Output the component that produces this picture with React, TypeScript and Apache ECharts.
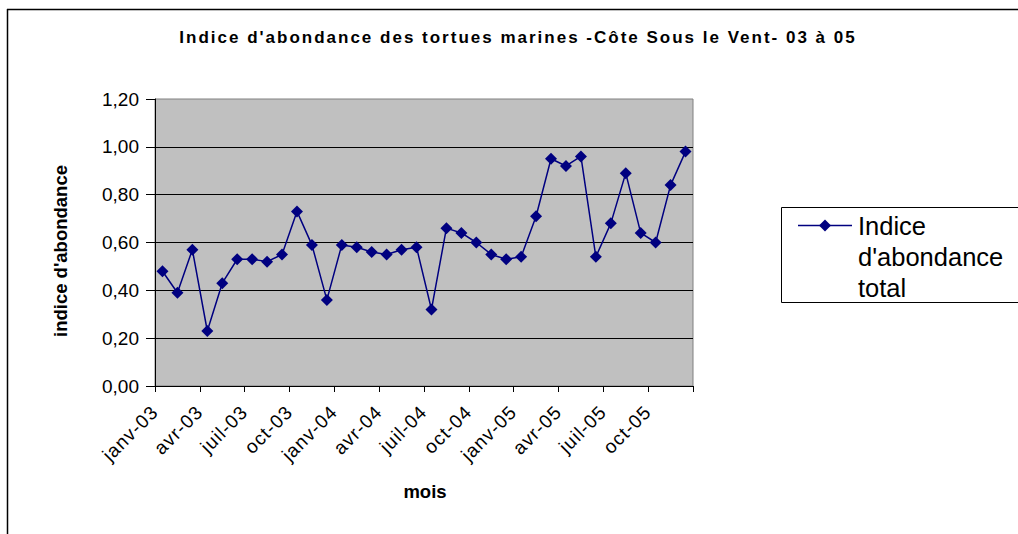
import React, { useEffect, useRef } from "react";
import * as echarts from "echarts";

const TITLE = "Indice d'abondance des tortues marines -Côte Sous le Vent- 03 à 05";
const Y_NAME = "indice d'abondance";
const X_NAME = "mois";
const SERIES_NAME = "Indice d'abondance total";
const LEGEND_LINES = ["Indice", "d'abondance", "total"];

const monthNames = ["janv", "févr", "mars", "avr", "mai", "juin", "juil", "août", "sept", "oct", "nov", "déc"];
const years = ["03", "04", "05"];
const categories: string[] = years.flatMap((y) => monthNames.map((m) => `${m}-${y}`));

const values = [
  0.48, 0.39, 0.57, 0.23, 0.43, 0.53, 0.53, 0.52, 0.55, 0.73, 0.59, 0.36,
  0.59, 0.58, 0.56, 0.55, 0.57, 0.58, 0.32, 0.66, 0.64, 0.6, 0.55, 0.53,
  0.54, 0.71, 0.95, 0.92, 0.96, 0.54, 0.68, 0.89, 0.64, 0.6, 0.84, 0.98,
];

const FONT = "'Liberation Sans', Arial, sans-serif";
const NAVY = "#000080";

export default function App() {
  const ref = useRef<HTMLDivElement>(null);

  useEffect(() => {
    const el = ref.current;
    if (!el) return;
    const chart = echarts.init(el, null, { renderer: "svg" });

    chart.setOption({
      animation: false,
      backgroundColor: "#ffffff",
      textStyle: { fontFamily: FONT },
      grid: {
        left: 155,
        top: 99,
        right: 325,
        bottom: 148,
        show: true,
        backgroundColor: "#c0c0c0",
        borderColor: "#808080",
        borderWidth: 1,
      },
      xAxis: {
        type: "category",
        data: categories,
        boundaryGap: true,
        axisLine: { lineStyle: { color: "#000", width: 1 } },
        axisTick: { show: true, interval: 2, length: 6, lineStyle: { color: "#000" } },
        axisLabel: {
          interval: 2,
          rotate: 45,
          margin: 15,
          padding: [0, 11, 0, 0],
          fontSize: 19,
          color: "#000",
          fontFamily: FONT,
        },
        splitLine: { show: false },
      },
      yAxis: {
        type: "value",
        min: 0,
        max: 1.2,
        interval: 0.2,
        axisLine: { show: true, lineStyle: { color: "#000", width: 1 } },
        axisTick: { show: true, length: 9, lineStyle: { color: "#000" } },
        axisLabel: {
          margin: 16,
          fontSize: 19,
          color: "#000",
          fontFamily: FONT,
          formatter: (v: number) => v.toFixed(2).replace(".", ","),
        },
        splitLine: { show: true, showMaxLine: false, lineStyle: { color: "#000", width: 1 } },
      },
      series: [
        {
          name: SERIES_NAME,
          type: "line",
          data: values,
          symbol: "diamond",
          symbolSize: 12,
          showAllSymbol: true,
          lineStyle: { color: NAVY, width: 1.5 },
          itemStyle: { color: NAVY },
        },
      ],
      graphic: [
        { type: "line", shape: { x1: 7, y1: 9.5, x2: 1018, y2: 9.5 }, style: { stroke: "#000", lineWidth: 1.5 } },
        { type: "line", shape: { x1: 7.5, y1: 9, x2: 7.5, y2: 534 }, style: { stroke: "#000", lineWidth: 1.5 } },
        {
          type: "text",
          x: 518,
          y: 37,
          style: {
            text: TITLE,
            fontSize: 17,
            fontWeight: "bold",
            fontFamily: FONT,
            fill: "#000",
            align: "center",
            verticalAlign: "middle",
          },
        },
        {
          type: "text",
          x: 60,
          y: 251,
          rotation: Math.PI / 2,
          style: {
            text: Y_NAME,
            fontSize: 18.5,
            fontWeight: "bold",
            fontFamily: FONT,
            fill: "#000",
            align: "center",
            verticalAlign: "middle",
          },
        },
        {
          type: "text",
          x: 425,
          y: 491,
          style: {
            text: X_NAME,
            fontSize: 18.5,
            fontWeight: "bold",
            fontFamily: FONT,
            fill: "#000",
            align: "center",
            verticalAlign: "middle",
          },
        },
        {
          type: "rect",
          shape: { x: 781.5, y: 207.5, width: 240, height: 95 },
          style: { fill: "#fff", stroke: "#000", lineWidth: 1 },
        },
        { type: "line", shape: { x1: 798, y1: 225.5, x2: 852, y2: 225.5 }, style: { stroke: NAVY, lineWidth: 1.5 } },
        {
          type: "polygon",
          shape: { points: [[825, 219.5], [831, 225.5], [825, 231.5], [819, 225.5]] },
          style: { fill: NAVY },
        },
        ...LEGEND_LINES.map((t, i) => ({
          type: "text",
          x: 858,
          y: 226 + i * 31,
          style: {
            text: t,
            fontSize: 25.5,
            fontFamily: FONT,
            fill: "#000",
            align: "left",
            verticalAlign: "middle",
          },
        })),
      ],
    });

    const applySpacing = () => {
      el.querySelectorAll("text").forEach((t) => {
        const s = t.textContent || "";
        if (s === TITLE) t.setAttribute("letter-spacing", "2");
        else if (categories.includes(s)) t.setAttribute("letter-spacing", "1");
      });
    };
    applySpacing();
    const timer = setTimeout(applySpacing, 0);
    chart.on("finished", applySpacing);

    return () => {
      clearTimeout(timer);
      chart.dispose();
    };
  }, []);

  return (
    <div
      ref={ref}
      style={{ position: "fixed", left: 0, top: 0, width: 1018, height: 534, background: "#fff" }}
    />
  );
}
